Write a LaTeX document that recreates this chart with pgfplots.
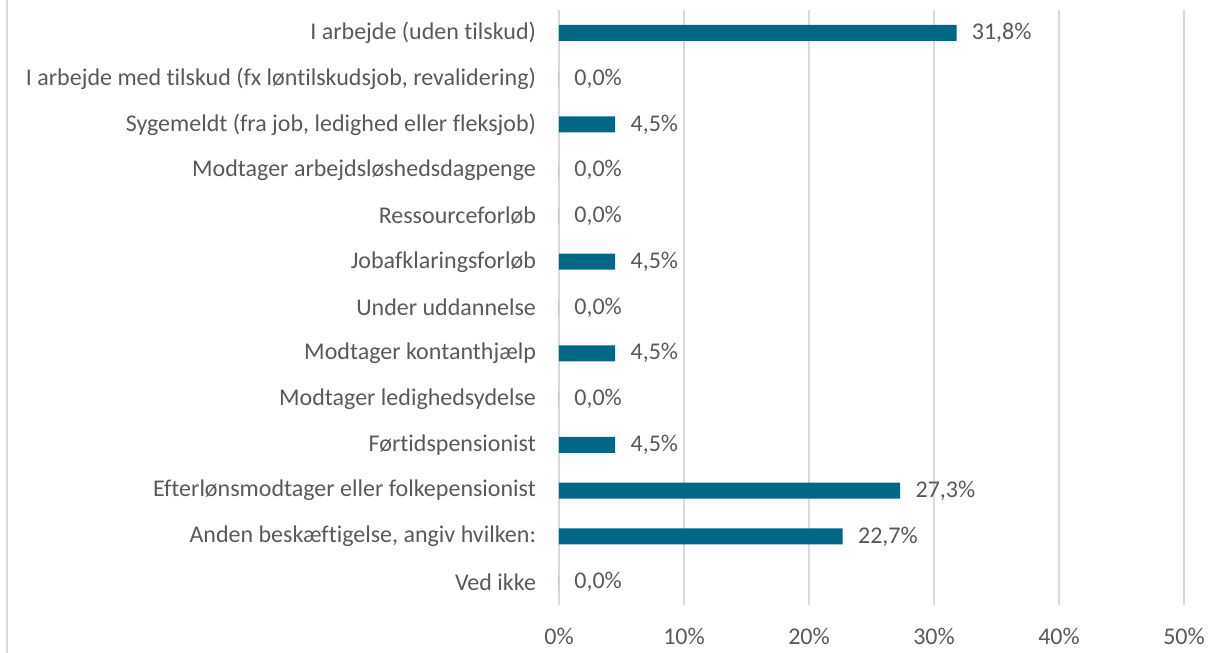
\documentclass[border=0pt]{standalone}
\usepackage{pgfplots}
\pgfplotsset{compat=1.18}
\usepackage{fontspec}
\setmainfont[Ligatures=NoCommon]{Carlito}
\definecolor{barblue}{RGB}{0,103,135}
\definecolor{txtgray}{RGB}{89,89,89}
\definecolor{gridgray}{RGB}{217,217,217}
\begin{document}
\begin{tikzpicture}
\path[use as bounding box] (0,0) rectangle (605.5pt,326.5pt);
\draw[gridgray, line width=1pt] (3.5pt,0) -- (3.5pt,326.5pt);
\begin{axis}[
    at={(279.5pt,24pt)}, anchor=south west,
    scale only axis,
    width=312.5pt, height=297.5pt,
    xbar, bar width=8pt,
    xmin=0, xmax=50,
    ymin=-0.5, ymax=12.5,
    y dir=reverse,
    xtick={0,10,20,30,40,50},
    xticklabels={0\%,10\%,20\%,30\%,40\%,50\%},
    ytick={0,...,12},
    yticklabels={
        I arbejde (uden tilskud),
        {I arbejde med tilskud (fx løntilskudsjob, revalidering)},
        {Sygemeldt (fra job, ledighed eller fleksjob)},
        Modtager arbejdsløshedsdagpenge,
        Ressourceforløb,
        Jobafklaringsforløb,
        Under uddannelse,
        Modtager kontanthjælp,
        Modtager ledighedsydelse,
        Førtidspensionist,
        Efterlønsmodtager eller folkepensionist,
        {Anden beskæftigelse, angiv hvilken:},
        Ved ikke},
    axis line style={draw=none},
    major tick length=0pt,
    xmajorgrids, grid style={gridgray, line width=0.8pt},
    tick label style={font=\fontsize{12}{14}\selectfont, text=txtgray},
    yticklabel style={xshift=-8pt},
    xticklabel style={yshift=-8pt},
    /pgf/number format/assume math mode=true,
    nodes near coords={\pgfmathprintnumber[fixed,fixed zerofill,precision=1,use comma,assume math mode=true]{\pgfplotspointmeta}\%},
    nodes near coords style={font=\fontsize{12}{14}\selectfont, text=txtgray, anchor=west, inner sep=0pt, xshift=7.5pt},
    clip=false,
]
\addplot[fill=barblue, draw=none] coordinates {
    (31.8,0) (0,1) (4.5,2) (0,3) (0,4) (4.5,5) (0,6)
    (4.5,7) (0,8) (4.5,9) (27.3,10) (22.7,11) (0,12)
};
\end{axis}
\end{tikzpicture}
\end{document}
